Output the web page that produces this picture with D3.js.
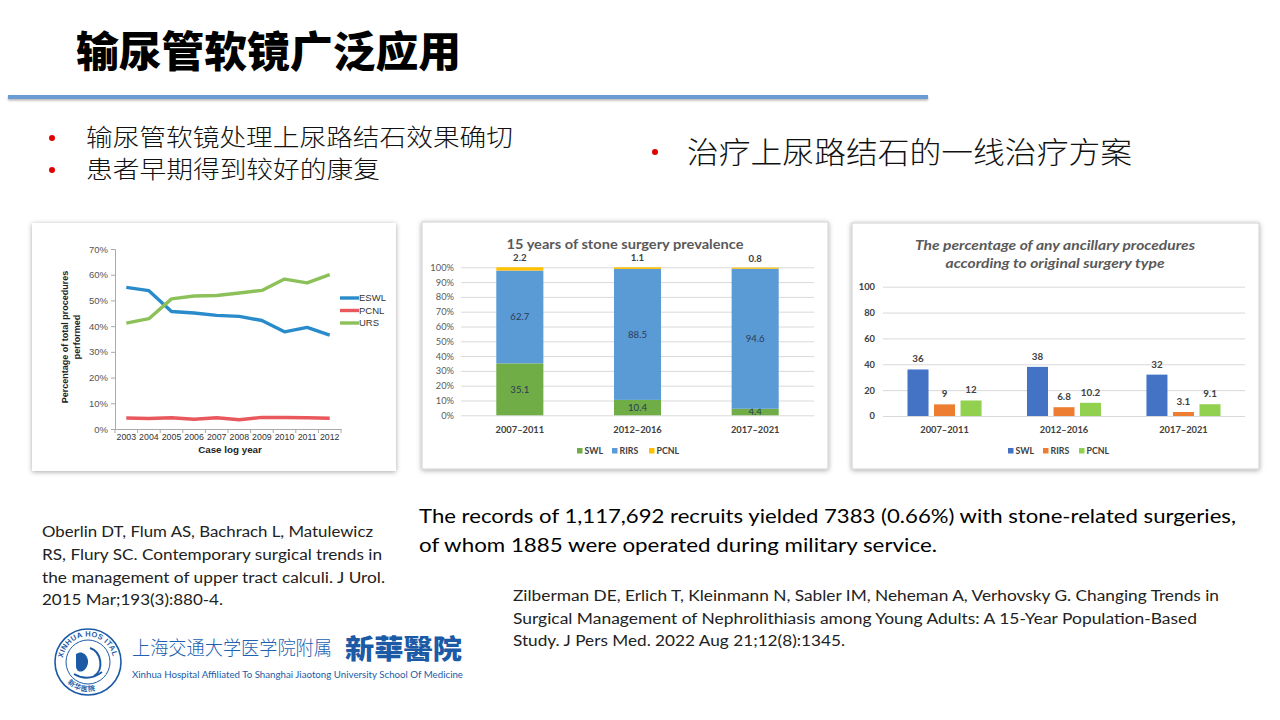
<!DOCTYPE html>
<html><head><meta charset="utf-8">
<script src="https://cdn.jsdelivr.net/npm/d3@7"></script>
<style>body{margin:0;background:#fff}svg{display:block}</style>
</head><body>
<svg id="s" width="1280" height="720"></svg>
<script>
// ---------- data ----------
const years = ["2003","2004","2005","2006","2007","2008","2009","2010","2011","2012"];
const eswl  = [55.1,53.8,45.7,45.1,44.2,43.8,42.2,37.8,39.5,36.5];
const pcnl1 = [4.3,4.1,4.4,3.8,4.4,3.6,4.5,4.5,4.4,4.2];
const urs   = [41.2,42.9,50.6,51.7,51.9,52.9,53.9,58.3,56.8,60.0];
const lineNames = ["ESWL","PCNL","URS"];
const pctTicks1 = [0,10,20,30,40,50,60,70];

const periods = ["2007–2011","2012–2016","2017–2021"];
const prevSWL  = [35.1,10.4,4.4];
const prevRIRS = [62.7,88.5,94.6];
const prevPCNL = [2.2,1.1,0.8];
const pctTicks2 = [0,10,20,30,40,50,60,70,80,90,100];

const ancSWL  = [36,38,32];
const ancRIRS = [9,6.8,3.1];
const ancPCNL = [12,10.2,9.1];
const ticks3 = [0,20,40,60,80,100];
const barNames = ["SWL","RIRS","PCNL"];

const svg = d3.select("#s");
const defs = svg.append("defs");
const f = defs.append("filter").attr("id","sh").attr("x","-10%").attr("y","-10%").attr("width","120%").attr("height","120%");
f.append("feDropShadow").attr("dx",0).attr("dy",1).attr("stdDeviation",2.5).attr("flood-color","#000").attr("flood-opacity",0.35);
const f2 = defs.append("filter").attr("id","lsh").attr("filterUnits","userSpaceOnUse").attr("x",0).attr("y",85).attr("width",960).attr("height",25);
f2.append("feDropShadow").attr("dx",0).attr("dy",1.5).attr("stdDeviation",1.2).attr("flood-color","#000").attr("flood-opacity",0.3);

const CJK = "'Noto Sans CJK SC', sans-serif";
const CAL = "Lato, 'Open Sans', sans-serif";
const ARIAL = "'Liberation Sans', Arial, sans-serif";

// ---------- title ----------
svg.append("text").attr("x",76).attr("y",67).attr("font-family",CJK).attr("font-weight",900)
  .attr("font-size",42).attr("fill","#000").attr("textLength",385).attr("lengthAdjust","spacingAndGlyphs").text("输尿管软镜广泛应用");
svg.append("rect").attr("x",8).attr("y",95).attr("width",920).attr("height",4)
  .attr("fill","#6b9bd2").attr("filter","url(#lsh)");

// bullets
const bullets = [
  {x:52, tx:86, y:138, size:23.5, t:"输尿管软镜处理上尿路结石效果确切", w:427},
  {x:52, tx:86, y:170, size:23.5, t:"患者早期得到较好的康复", w:294},
  {x:655, tx:687, y:152, size:29.5, t:"治疗上尿路结石的一线治疗方案", w:445}
];
bullets.forEach(b=>{
  svg.append("circle").attr("cx",b.x).attr("cy",b.y).attr("r",3).attr("fill","#e00000");
  svg.append("text").attr("x",b.tx).attr("y",b.y).attr("dy","0.36em").attr("font-family",CJK).attr("font-weight",300)
    .attr("font-size",b.size).attr("fill","#111").attr("textLength",b.w).attr("lengthAdjust","spacingAndGlyphs").text(b.t);
});

// ---------- chart 1 ----------
svg.append("rect").attr("x",32).attr("y",223).attr("width",364).attr("height",248).attr("fill","#fff").attr("filter","url(#sh)");
const g1 = svg.append("g");
const x1 = d3.scaleBand().domain(years).range([115,341]);
const y1 = d3.scaleLinear().domain([0,70]).range([429,249]);
const ax1 = g1.append("g").attr("transform","translate(115,0)")
  .call(d3.axisLeft(y1).tickValues(pctTicks1).tickFormat(d=>d+"%").tickSize(4).tickPadding(3));
ax1.selectAll("text").attr("font-family",ARIAL).attr("font-size",9.5).attr("fill","#555");
ax1.selectAll("line,path").attr("stroke","#aaa");
const bx1 = g1.append("g").attr("transform","translate(0,429)")
  .call(d3.axisBottom(x1).tickSize(0).tickPadding(5));
bx1.selectAll("text").attr("font-family",ARIAL).attr("font-size",8.8).attr("fill","#333");
bx1.selectAll("path").attr("stroke","#aaa");
g1.selectAll(".bt").data(years.concat(["end"])).join("line")
  .attr("x1",(d,i)=>x1.range()[0]+i*x1.step()).attr("x2",(d,i)=>x1.range()[0]+i*x1.step())
  .attr("y1",429).attr("y2",433).attr("stroke","#aaa");
const series1 = [
  {name:"ESWL", vals:eswl, color:"#2a8bcb"},
  {name:"PCNL", vals:pcnl1, color:"#e8585c"},
  {name:"URS", vals:urs, color:"#8cc15a"}
];
const ln = d3.line().x((d,i)=>x1(years[i])+x1.bandwidth()/2).y(d=>y1(d));
series1.forEach((s,k)=>{
  g1.append("path").attr("d",ln(s.vals)).attr("fill","none").attr("stroke",s.color).attr("stroke-width",3.4).attr("stroke-linejoin","round");
  const ly = 298 + k*12.5;
  g1.append("line").attr("x1",340).attr("x2",359).attr("y1",ly).attr("y2",ly).attr("stroke",s.color).attr("stroke-width",3.4);
  g1.append("text").attr("x",359).attr("y",ly).attr("dy","0.35em").attr("font-family",ARIAL).attr("font-size",9.5).attr("fill","#333").text(s.name);
});
g1.append("text").attr("transform","translate(68,337) rotate(-90)").attr("text-anchor","middle").attr("font-family",ARIAL)
  .attr("font-weight","bold").attr("font-size",9).attr("fill","#222").text("Percentage of total procedures");
g1.append("text").attr("transform","translate(80,337) rotate(-90)").attr("text-anchor","middle").attr("font-family",ARIAL)
  .attr("font-weight","bold").attr("font-size",9).attr("fill","#222").text("performed");
g1.append("text").attr("x",230).attr("y",453).attr("text-anchor","middle").attr("font-family",ARIAL)
  .attr("font-weight","bold").attr("font-size",9.8).attr("fill","#222").text("Case log year");

// ---------- chart 2 ----------
svg.append("rect").attr("x",422).attr("y",222).attr("width",406).attr("height",247).attr("fill","#fff").attr("stroke","#d0d0d0").attr("filter","url(#sh)");
const g2 = svg.append("g");
const x2 = d3.scaleBand().domain(periods).range([461,814]).paddingInner(0.6).paddingOuter(0.3);
const y2 = d3.scaleLinear().domain([0,100]).range([415.3,267.3]);
const ax2 = g2.append("g").attr("transform","translate(461,0)")
  .call(d3.axisLeft(y2).tickValues(pctTicks2).tickFormat(d=>d+"%").tickSize(-353).tickPadding(7));
ax2.select(".domain").remove();
ax2.selectAll("line").attr("stroke","#d9d9d9");
ax2.selectAll("text").attr("font-family",CAL).attr("font-size",9.3).attr("fill","#595959");
const rows2 = periods.map((p,i)=>({p, SWL:prevSWL[i], RIRS:prevRIRS[i], PCNL:prevPCNL[i]}));
const stack = d3.stack().keys(barNames)(rows2);
const col2 = {SWL:"#70ad47", RIRS:"#5b9bd5", PCNL:"#ffc000"};
stack.forEach(layer=>{
  g2.selectAll(null).data(layer).join("rect")
    .attr("x",d=>x2(d.data.p)).attr("width",x2.bandwidth())
    .attr("y",d=>y2(d[1])).attr("height",d=>y2(d[0])-y2(d[1])).attr("fill",col2[layer.key]);
  g2.selectAll(null).data(layer).join("text")
    .attr("x",d=>x2(d.data.p)+x2.bandwidth()/2)
    .attr("y",d=>layer.key==="PCNL" ? y2(d[1])-6 : y2((d[0]+d[1])/2))
    .attr("dy", layer.key==="PCNL" ? "0" : "0.35em")
    .attr("text-anchor","middle").attr("font-family",CAL).attr("font-weight", layer.key==="PCNL"?"bold":"normal")
    .attr("font-size",9.6).attr("fill", layer.key==="PCNL" ? "#404040" : "#2a3a55")
    .text(d=>d.data[layer.key]);
});
g2.selectAll(null).data(periods).join("text").attr("x",d=>x2(d)+x2.bandwidth()/2).attr("y",430).attr("dy","0.35em")
  .attr("text-anchor","middle").attr("font-family",CAL).attr("font-weight","bold").attr("font-size",9.3).attr("fill","#404040").text(d=>d);
g2.append("text").attr("x",625).attr("y",244).attr("dy","0.35em").attr("text-anchor","middle").attr("font-family",CAL)
  .attr("font-weight","bold").attr("font-size",13.5).attr("fill","#595959").attr("textLength",237).attr("lengthAdjust","spacingAndGlyphs")
  .text("15 years of stone surgery prevalence");
const leg2x = [577, 612, 649];
barNames.forEach((n,i)=>{
  g2.append("rect").attr("x",leg2x[i]).attr("y",448).attr("width",5.5).attr("height",5.5).attr("fill",col2[n]);
  g2.append("text").attr("x",leg2x[i]+7.5).attr("y",451).attr("dy","0.35em").attr("font-family",CAL).attr("font-weight","bold")
    .attr("font-size",8.8).attr("fill","#404040").text(n);
});

// ---------- chart 3 ----------
svg.append("rect").attr("x",852).attr("y",223).attr("width",407).attr("height",246).attr("fill","#fff").attr("stroke","#d0d0d0").attr("filter","url(#sh)");
const g3 = svg.append("g");
const x3 = d3.scaleBand().domain(periods).range([883,1245]).paddingInner(0.38).paddingOuter(0.205);
const xi = d3.scaleBand().domain(barNames).range([0,x3.bandwidth()]).paddingInner(0.2075).paddingOuter(0);
const y3 = d3.scaleLinear().domain([0,100]).range([416,286.7]);
const ax3 = g3.append("g").attr("transform","translate(883,0)")
  .call(d3.axisLeft(y3).tickValues(ticks3).tickSize(-362).tickPadding(8));
ax3.select(".domain").remove();
ax3.selectAll("line").attr("stroke","#d9d9d9");
ax3.selectAll("text").attr("font-family",CAL).attr("font-size",9.3).attr("fill","#404040").attr("font-weight","bold");
const col3 = {SWL:"#4472c4", RIRS:"#ed7d31", PCNL:"#92d050"};
const vals3 = {SWL:ancSWL, RIRS:ancRIRS, PCNL:ancPCNL};
barNames.forEach(n=>{
  const data = periods.map((p,i)=>({p, v:vals3[n][i]}));
  g3.selectAll(null).data(data).join("rect")
    .attr("x",d=>x3(d.p)+xi(n)).attr("width",xi.bandwidth())
    .attr("y",d=>y3(d.v)).attr("height",d=>y3(0)-y3(d.v)).attr("fill",col3[n]);
  g3.selectAll(null).data(data).join("text")
    .attr("x",d=>x3(d.p)+xi(n)+xi.bandwidth()/2).attr("y",d=>y3(d.v)-7)
    .attr("text-anchor","middle").attr("font-family",CAL).attr("font-weight","bold").attr("font-size",9.8).attr("fill","#404040").text(d=>d.v);
});
g3.selectAll(null).data(periods).join("text").attr("x",d=>x3(d)+x3.bandwidth()/2).attr("y",430).attr("dy","0.35em")
  .attr("text-anchor","middle").attr("font-family",CAL).attr("font-weight","bold").attr("font-size",9.3).attr("fill","#404040").text(d=>d);
g3.append("text").attr("x",1055).attr("y",245).attr("dy","0.35em").attr("text-anchor","middle").attr("font-family",CAL)
  .attr("font-weight","bold").attr("font-style","italic").attr("font-size",13).attr("fill","#595959")
  .attr("textLength",280).attr("lengthAdjust","spacingAndGlyphs").text("The percentage of any ancillary procedures");
g3.append("text").attr("x",1055).attr("y",263.5).attr("dy","0.35em").attr("text-anchor","middle").attr("font-family",CAL)
  .attr("font-weight","bold").attr("font-style","italic").attr("font-size",13).attr("fill","#595959")
  .attr("textLength",219).attr("lengthAdjust","spacingAndGlyphs").text("according to original surgery type");
const leg3x = [1008, 1043, 1079];
barNames.forEach((n,i)=>{
  g3.append("rect").attr("x",leg3x[i]).attr("y",448).attr("width",5.5).attr("height",5.5).attr("fill",col3[n]);
  g3.append("text").attr("x",leg3x[i]+7.5).attr("y",451).attr("dy","0.35em").attr("font-family",CAL).attr("font-weight","bold")
    .attr("font-size",8.8).attr("fill","#404040").text(n);
});

// ---------- body text ----------
function txt(x,y,size,t,w,col){
  const e = svg.append("text").attr("x",x).attr("y",y).attr("font-family",CAL).attr("font-size",size).attr("fill",col||"#111").text(t);
  if(w) e.attr("textLength",w).attr("lengthAdjust","spacingAndGlyphs");
  return e;
}
txt(419,523,20,"The records of 1,117,692 recruits yielded 7383 (0.66%) with stone-related surgeries,",817,"#000");
txt(419,552,20,"of whom 1885 were operated during military service.",518,"#000");

txt(42,537,15.5,"Oberlin DT, Flum AS, Bachrach L, Matulewicz",331,"#222");
txt(42,560,15.5,"RS, Flury SC. Contemporary surgical trends in",340,"#222");
txt(42,583,15.5,"the management of upper tract calculi. J Urol.",343,"#222");
txt(42,605,15.5,"2015 Mar;193(3):880-4.",181,"#222");

txt(513,601,15.5,"Zilberman DE, Erlich T, Kleinmann N, Sabler IM, Neheman A, Verhovsky G. Changing Trends in",706,"#222");
txt(513,624,15.5,"Surgical Management of Nephrolithiasis among Young Adults: A 15-Year Population-Based",684,"#222");
txt(513,646,15.5,"Study. J Pers Med. 2022 Aug 21;12(8):1345.",332,"#222");

// ---------- logo ----------
const cx = 88, cy = 662;
const blue = "#1c5aa6";
const lg = svg.append("g");
lg.append("circle").attr("cx",cx).attr("cy",cy).attr("r",33).attr("fill","#fff").attr("stroke",blue).attr("stroke-width",1.6);
lg.append("circle").attr("cx",cx).attr("cy",cy).attr("r",22).attr("fill","none").attr("stroke",blue).attr("stroke-width",1);
// top arc from ~8 o'clock to ~4 o'clock, over the top (absolute coords)
const rT = 25.5, rB = 29.5;
const a0 = Math.PI*0.95, a1 = Math.PI*0.05;
defs.append("path").attr("id","arcTop")
  .attr("d",`M ${cx+rT*Math.cos(a0)} ${cy-rT*Math.sin(a0)} A ${rT} ${rT} 0 0 1 ${cx+rT*Math.cos(a1)} ${cy-rT*Math.sin(a1)}`);
defs.append("path").attr("id","arcBot")
  .attr("d",`M ${cx-rB*0.7} ${cy+rB*0.71} A ${rB} ${rB} 0 0 0 ${cx+rB*0.7} ${cy+rB*0.71}`);
lg.append("text").attr("font-family",ARIAL).attr("font-size",7.5).attr("font-weight","bold").attr("fill",blue)
  .append("textPath").attr("href","#arcTop").attr("textLength",70).attr("lengthAdjust","spacing").text("XINHUA HOS ITAL");
lg.append("text").attr("font-family",CJK).attr("font-size",7).attr("font-weight","bold").attr("fill",blue)
  .append("textPath").attr("href","#arcBot").attr("textLength",30).text("新华医院");
lg.append("path").attr("d",`M ${cx-12} ${cy-8} C ${cx-4} ${cy-14}, ${cx+4} ${cy-2}, ${cx-2} ${cy+6} C ${cx-6} ${cy+12}, ${cx-12} ${cy+10}, ${cx-12} ${cy+4} Z`).attr("fill",blue);
lg.append("path").attr("d",`M ${cx+2} ${cy-14} C ${cx+14} ${cy-10}, ${cx+16} ${cy+8}, ${cx+6} ${cy+14}`).attr("fill","none").attr("stroke",blue).attr("stroke-width",2);
lg.append("path").attr("d",`M ${cx-14} ${cy+12} C ${cx-4} ${cy+18}, ${cx+6} ${cy+16}, ${cx+14} ${cy+10}`).attr("fill","none").attr("stroke",blue).attr("stroke-width",2);

svg.append("text").attr("x",132).attr("y",655).attr("font-family",CJK).attr("font-weight",300).attr("font-size",19)
  .attr("fill","#2060b0").attr("textLength",200).attr("lengthAdjust","spacingAndGlyphs").text("上海交通大学医学院附属");
svg.append("text").attr("x",345).attr("y",659).attr("font-family","'Noto Sans CJK TC', sans-serif").attr("font-weight",900).attr("font-size",27)
  .attr("fill","#1c5aa6").attr("textLength",117).attr("lengthAdjust","spacingAndGlyphs").text("新華醫院");
svg.append("text").attr("x",132).attr("y",678).attr("font-family",CAL).attr("font-size",8.5)
  .attr("fill","#1c5aa6").attr("textLength",331).attr("lengthAdjust","spacingAndGlyphs").text("Xinhua Hospital Affiliated To Shanghai Jiaotong University School Of Medicine");
</script>
</body></html>
